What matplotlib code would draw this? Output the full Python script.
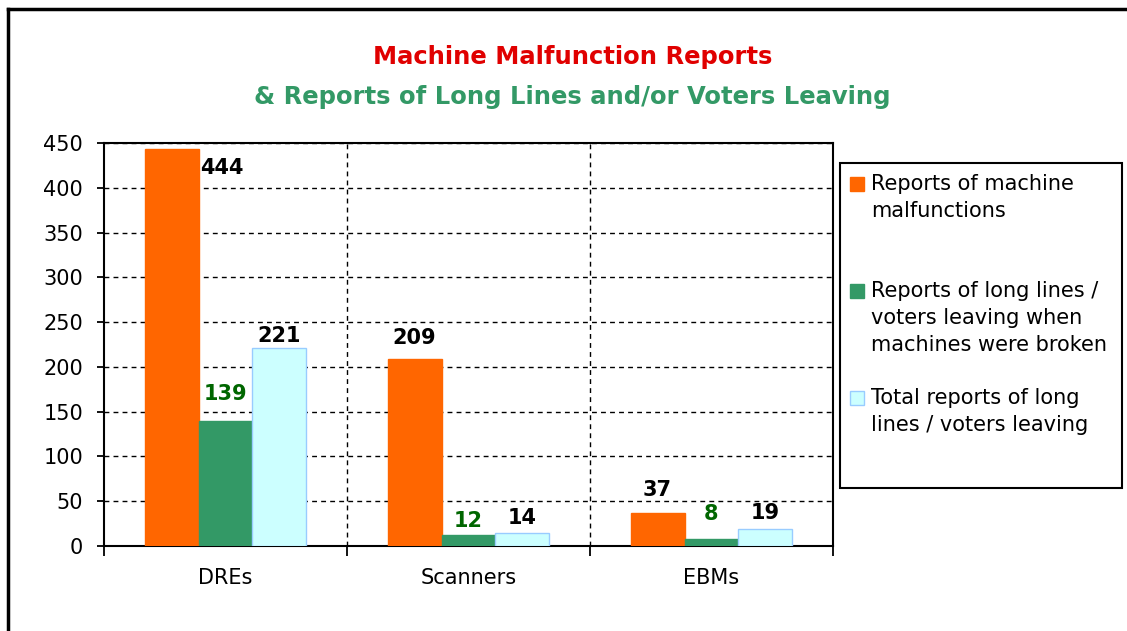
import matplotlib.pyplot as plt
import numpy as np
from matplotlib.patches import Rectangle
from matplotlib.lines import Line2D

plt.rcParams['font.family'] = ['DejaVu Sans']

categories = ["DREs", "Scanners", "EBMs"]
malfunctions = [444, 209, 37]
lines_broken = [139, 12, 8]
lines_total = [221, 14, 19]

series_labels = ["Reports of machine\nmalfunctions",
                 "Reports of long lines /\nvoters leaving when\nmachines were broken",
                 "Total reports of long\nlines / voters leaving"]
colors = ["#FF6600", "#339966", "#CCFFFF"]
edges = ["#FF6600", "#339966", "#99CCFF"]
label_colors = ["black", "#006600", "black"]
# label offsets in points (dx, dy) per series / category
offsets = [[(36, -14), (0, 15), (0, 16)],
           [(0, 20), (0, 10), (0, 18)],
           [(0, 9), (0, 11), (0, 11)]]

fig = plt.figure(figsize=(11.27, 6.31), dpi=100)
ax = fig.add_axes([0.0923, 0.1352, 0.6468, 0.6377])

x = np.arange(len(categories))
width = 0.222
data = [malfunctions, lines_broken, lines_total]
for i, vals in enumerate(data):
    pos = x + (i - 1) * width
    ax.bar(pos, vals, width, color=colors[i], edgecolor=edges[i], linewidth=1, zorder=3)
    for j, v in enumerate(vals):
        dx, dy = offsets[i][j]
        ax.annotate(str(v), (pos[j], v), xytext=(dx, dy), textcoords="offset points",
                    ha="center", va="center", fontsize=15, fontweight="bold",
                    color=label_colors[i], zorder=4)

ax.set_xlim(-0.5, 2.5)
ax.set_ylim(0, 450)
ax.set_yticks(np.arange(0, 451, 50))
ax.yaxis.grid(True, color="black", linestyle=(0, (3.5, 3)), linewidth=1)
for b in [0.5, 1.5]:
    ax.axvline(b, color="black", linestyle=(0, (3.5, 3)), linewidth=1, zorder=1)
ax.set_axisbelow(True)

ax.set_xticks([-0.5, 0.5, 1.5, 2.5])
ax.set_xticklabels([])
ax.set_xticks(x, minor=True)
ax.set_xticklabels(categories, minor=True)
ax.tick_params(axis="x", which="major", direction="out", length=7, width=1.3)
ax.tick_params(axis="x", which="minor", length=0, pad=16, labelsize=15)
ax.tick_params(axis="y", direction="out", length=5, width=1.3, labelsize=15, pad=10)
for s in ax.spines.values():
    s.set_linewidth(1.5)
    s.set_color("black")

# titles
fig.text(0.508, 0.909, "Machine Malfunction Reports", ha="center", va="center",
         fontsize=17.5, fontweight="bold", color="#E00000")
fig.text(0.508, 0.846, "& Reports of Long Lines and/or Voters Leaving", ha="center",
         va="center", fontsize=17.5, fontweight="bold", color="#339966")

# legend box
W, H = 1127, 631
fig.patches.append(Rectangle((840 / W, 1 - 488 / H), (1122 - 840) / W, (488 - 163) / H,
                             transform=fig.transFigure, fill=False, edgecolor="black",
                             linewidth=1.5))
first_line_y = [184, 291, 398]
for i, lab in enumerate(series_labels):
    yc = first_line_y[i]
    fig.patches.append(Rectangle((850 / W, 1 - (yc + 7) / H), 14 / W, 14 / H,
                                 transform=fig.transFigure, facecolor=colors[i],
                                 edgecolor=edges[i], linewidth=1))
    fig.text(871 / W, 1 - (yc - 10) / H, lab, ha="left", va="top", fontsize=15,
             linespacing=1.45)

# outer chart border
fig.add_artist(Line2D([8 / W, 8 / W], [0, 1 - 9 / H], color="black", linewidth=2.5,
                      transform=fig.transFigure))
fig.add_artist(Line2D([8 / W, 1], [1 - 9 / H, 1 - 9 / H], color="black", linewidth=2.5,
                      transform=fig.transFigure))

fig.savefig("out.png", dpi=100)
